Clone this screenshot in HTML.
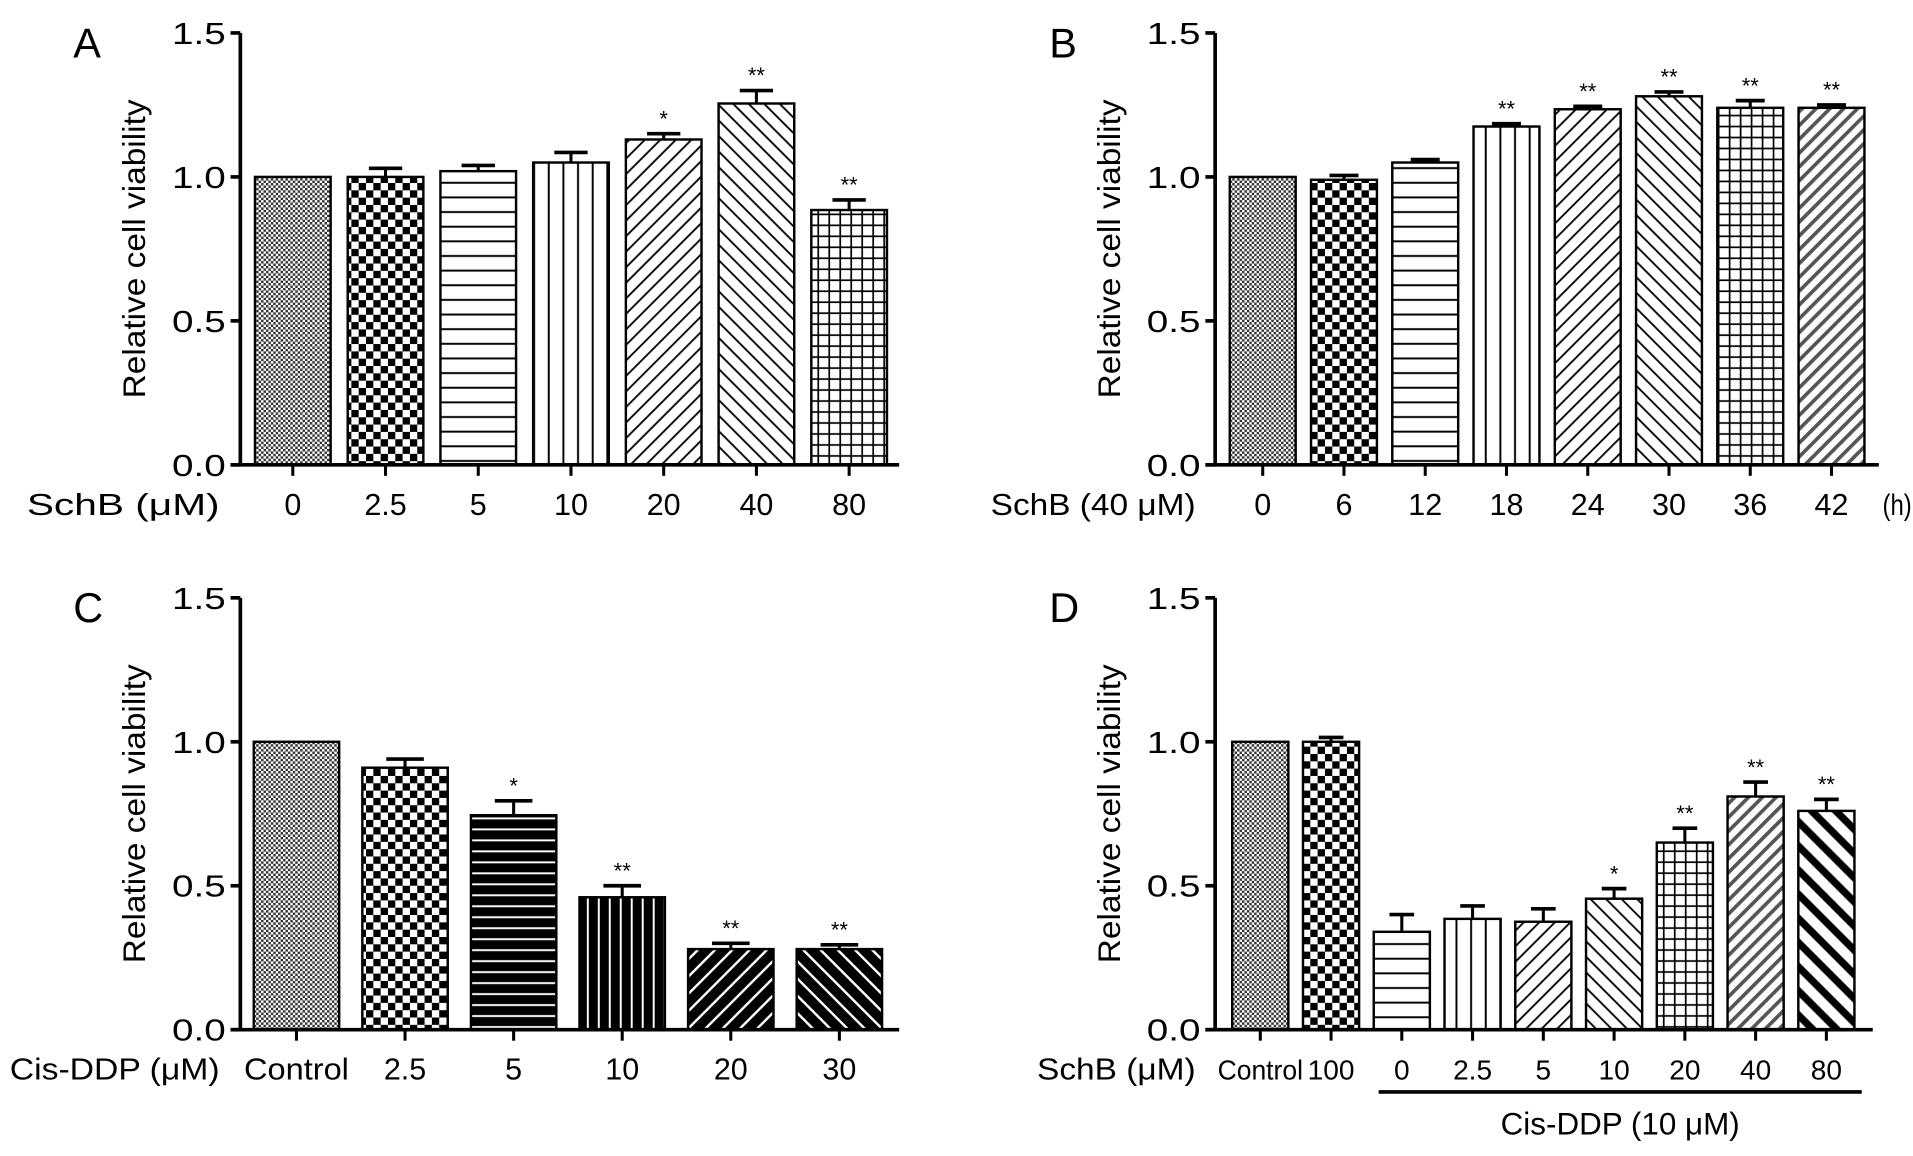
<!DOCTYPE html>
<html><head><meta charset="utf-8"><style>
html,body{margin:0;padding:0;background:#fff;}
svg{display:block;font-family:"Liberation Sans",sans-serif;}
</style></head><body>
<svg id="fig" width="1913" height="1156" viewBox="0 0 1568 947.5" xmlns="http://www.w3.org/2000/svg">
<defs>
<pattern id="p-dots" width="4" height="4" patternUnits="userSpaceOnUse"><rect width="4" height="4" fill="#fff"/><rect width="2" height="2" fill="#333"/><rect x="2" y="2" width="2" height="2" fill="#333"/></pattern>
<pattern id="p-check" width="12" height="12" patternUnits="userSpaceOnUse"><rect width="12" height="12" fill="#fff"/><rect width="6" height="6" fill="#000"/><rect x="6" y="6" width="6" height="6" fill="#000"/></pattern>
<pattern id="p-hor" width="10" height="12" patternUnits="userSpaceOnUse"><rect width="10" height="12" fill="#fff"/><rect y="5" width="10" height="1.6" fill="#000"/></pattern>
<pattern id="p-ver" width="12" height="10" patternUnits="userSpaceOnUse"><rect width="12" height="10" fill="#fff"/><rect x="5" width="1.6" height="10" fill="#000"/></pattern>
<pattern id="p-diag1" width="9" height="9" patternUnits="userSpaceOnUse" patternTransform="rotate(45)"><rect width="9" height="9" fill="#fff"/><rect x="4" width="1.5" height="9" fill="#000"/></pattern>
<pattern id="p-diag2" width="9" height="9" patternUnits="userSpaceOnUse" patternTransform="rotate(-45)"><rect width="9" height="9" fill="#fff"/><rect x="4" width="1.5" height="9" fill="#000"/></pattern>
<pattern id="p-grid" width="9" height="9" patternUnits="userSpaceOnUse"><rect width="9" height="9" fill="#fff"/><rect x="4" width="1.4" height="9" fill="#000"/><rect y="4" width="9" height="1.4" fill="#000"/></pattern>
<pattern id="p-zig" width="8" height="8" patternUnits="userSpaceOnUse" patternTransform="rotate(45)"><rect width="8" height="8" fill="#fff"/><rect x="2" width="3" height="8" fill="#555"/></pattern>
<pattern id="p-blkhor" width="10" height="9" patternUnits="userSpaceOnUse"><rect width="10" height="9" fill="#000"/><rect y="4" width="10" height="1.6" fill="#fff"/></pattern>
<pattern id="p-blkver" width="9" height="10" patternUnits="userSpaceOnUse"><rect width="9" height="10" fill="#000"/><rect x="4" width="1.6" height="10" fill="#fff"/></pattern>
<pattern id="p-blkdiag1" width="10" height="10" patternUnits="userSpaceOnUse" patternTransform="rotate(45)"><rect width="10" height="10" fill="#000"/><rect x="4" width="2" height="10" fill="#fff"/></pattern>
<pattern id="p-blkdiag2" width="10" height="10" patternUnits="userSpaceOnUse" patternTransform="rotate(-45)"><rect width="10" height="10" fill="#000"/><rect x="4" width="2" height="10" fill="#fff"/></pattern>
<pattern id="p-thickdiag" width="14" height="14" patternUnits="userSpaceOnUse" patternTransform="rotate(-45)"><rect width="14" height="14" fill="#fff"/><rect x="3" width="6" height="14" fill="#000"/></pattern>
</defs>
</svg>
<script>
const catsA=["0","2.5","5","10","20","40","80"];
const valsA=[1.0,1.0,1.02,1.05,1.13,1.255,0.885];
const errA=[0,0.03,0.02,0.035,0.02,0.045,0.035];
const sigA=["","","","","*","**","**"];
const catsB=["0","6","12","18","24","30","36","42"];
const valsB=[1.0,0.99,1.05,1.175,1.235,1.28,1.24,1.24];
const errB=[0,0.015,0.01,0.01,0.01,0.015,0.025,0.01];
const sigB=["","","","**","**","**","**","**"];
const catsC=["Control","2.5","5","10","20","30"];
const valsC=[1.0,0.91,0.745,0.46,0.28,0.28];
const errC=[0,0.03,0.05,0.04,0.02,0.015];
const sigC=["","","*","**","**","**"];
const catsD=["Control","100","0","2.5","5","10","20","40","80"];
const valsD=[1.0,1.0,0.34,0.385,0.375,0.455,0.65,0.81,0.76];
const errD=[0,0.015,0.06,0.045,0.045,0.035,0.05,0.05,0.04];
const sigD=["","","","","","*","**","**","**"];
const yTicks=["0.0","0.5","1.0","1.5"];

const svg=document.getElementById('fig');
const NS='http://www.w3.org/2000/svg';
function mk(tag,attrs,parent){const e=document.createElementNS(NS,tag);for(const k in attrs)e.setAttribute(k,attrs[k]);(parent||svg).appendChild(e);return e;}

const panels=[
 {id:'a',letter:'A',lx:60,ax:197,y0:381,xEnd:737,c0:240,step:76,bw:62,cats:catsA,vals:valsA,err:errA,sig:sigA,pats:['p-dots','p-check','p-hor','p-ver','p-diag1','p-diag2','p-grid'],xlab:'SchB (μM)',xlabX:180,xlabW:158,fs:24},
 {id:'b',letter:'B',lx:860,ax:996,y0:381,xEnd:1540,c0:1035,step:66.6,bw:54,cats:catsB,vals:valsB,err:errB,sig:sigB,pats:['p-dots','p-check','p-hor','p-ver','p-diag1','p-diag2','p-grid','p-zig'],xlab:'SchB (40 μM)',xlabX:980,xlabW:168,fs:24,suffix:'(h)'},
 {id:'c',letter:'C',lx:60,ax:197,y0:844,xEnd:737,c0:243,step:89,bw:70,cats:catsC,vals:valsC,err:errC,sig:sigC,pats:['p-dots','p-check','p-blkhor','p-blkver','p-blkdiag1','p-blkdiag2'],xlab:'Cis-DDP (μM)',xlabX:180,xlabW:172,fs:24},
 {id:'d',letter:'D',lx:860,ax:996,y0:844,xEnd:1535,c0:1033,step:58,bw:46,cats:catsD,vals:valsD,err:errD,sig:sigD,pats:['p-dots','p-check','p-hor','p-ver','p-diag1','p-diag2','p-grid','p-zig','p-thickdiag'],xlab:'SchB (μM)',xlabX:980,xlabW:130,fs:22},
];
const unit=236;
panels.forEach(p=>{
 const g=mk('g',{});
 
 
 const Y=v=>p.y0-v*unit;
 const X=i=>p.c0+i*p.step;
 const L=mk('text',{x:p.lx,y:p.y0-334,'font-size':34},g);L.textContent=p.letter;
 
 const ya=mk('line',{x1:p.ax,y1:Y(1.5),x2:p.ax,y2:p.y0,stroke:'#000','stroke-width':3},g);
 
 yTicks.forEach((t,i)=>{const v=parseFloat(t);
  mk('line',{x1:p.ax-8,y1:Y(v),x2:p.ax,y2:Y(v),stroke:'#000','stroke-width':3},g);
  const tx=mk('text',{x:p.ax-12,y:Y(v)+9,'font-size':25,'text-anchor':'end',textLength:44,lengthAdjust:'spacingAndGlyphs'},g);tx.textContent=t;
  });
 const yt=mk('text',{x:0,y:0,'font-size':26,'text-anchor':'middle',textLength:245,lengthAdjust:'spacingAndGlyphs',transform:`translate(${p.ax-78},${Y(0.75)}) rotate(-90)`},g);
 yt.textContent='Relative cell viability';
 
 p.vals.forEach((v,i)=>{
  const cx=X(i);
  const b=mk('rect',{x:cx-p.bw/2,y:Y(v),width:p.bw,height:p.y0-Y(v),fill:`url(#${p.pats[i]})`,stroke:'#000','stroke-width':2},g);
  
  if(p.err[i]>0){
   mk('line',{x1:cx,y1:Y(v),x2:cx,y2:Y(v+p.err[i]),stroke:'#000','stroke-width':2.5},g);
   mk('line',{x1:cx-p.bw*0.22,y1:Y(v+p.err[i]),x2:cx+p.bw*0.22,y2:Y(v+p.err[i]),stroke:'#000','stroke-width':3},g);
  }
  if(p.sig[i]){const s=mk('text',{x:cx,y:Y(v+p.err[i])-6,'font-size':18,'text-anchor':'middle'},g);s.textContent=p.sig[i];
   }
  mk('line',{x1:cx,y1:p.y0,x2:cx,y2:p.y0+9,stroke:'#000','stroke-width':2.5},g);
  const tl=mk('text',{x:cx,y:p.y0+41,'font-size':p.fs+1,'text-anchor':'middle'},g);tl.textContent=p.cats[i];
  if(p.cats[i]==='Control'){tl.setAttribute('textLength',p.id==='d'?'70':'86');tl.setAttribute('lengthAdjust','spacingAndGlyphs');}
  
 });
 const xa=mk('line',{x1:p.ax-8,y1:p.y0,x2:p.xEnd,y2:p.y0,stroke:'#000','stroke-width':3},g);
 
 const xl=mk('text',{x:p.xlabX,y:p.y0+41,'font-size':25,'text-anchor':'end',textLength:p.xlabW,lengthAdjust:'spacingAndGlyphs'},g);xl.textContent=p.xlab;
 
 if(p.suffix){const sf=mk('text',{x:1543,y:p.y0+41,'font-size':24,textLength:24,lengthAdjust:'spacingAndGlyphs'},g);sf.textContent=p.suffix;
  }
 if(p.id==='d'){
  const br=mk('line',{x1:1130,y1:895,x2:1526,y2:895,stroke:'#000','stroke-width':3},g);
  
  const bt=mk('text',{x:1328,y:930,'font-size':26,'text-anchor':'middle',textLength:196,lengthAdjust:'spacingAndGlyphs'},g);bt.textContent='Cis-DDP (10 μM)';
  
 }
});
</script>
</body></html>
